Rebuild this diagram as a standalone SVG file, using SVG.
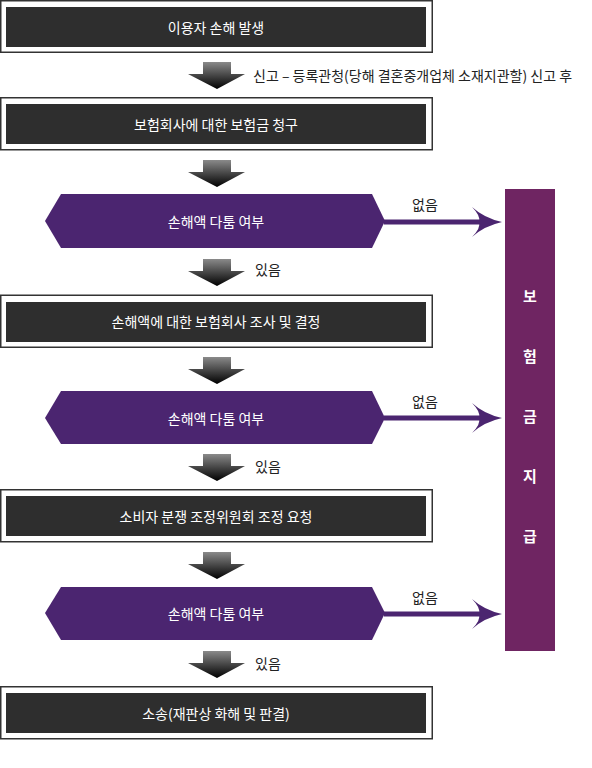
<svg xmlns="http://www.w3.org/2000/svg" width="592" height="768" viewBox="0 0 592 768">
<defs>
<linearGradient id="ag" x1="0" y1="0" x2="0" y2="1">
<stop offset="0" stop-color="#8a8a8a"/>
<stop offset="1" stop-color="#000"/>
</linearGradient>
<path id="down" d="M203,0 H231 V12 H245 L217,27 L188,12 H203 Z" fill="url(#ag)"/>
</defs>
<style>
.outer{fill:#fff;stroke:#333;stroke-width:1.5}
.inner{fill:#2e2e2e}
.hex{fill:#4b2570}
.wt{fill:#fff;font-family:"Noto Sans CJK KR","Noto Sans",sans-serif;font-size:14px;text-anchor:middle;dominant-baseline:central}
.bt{fill:#222;font-family:"Noto Sans CJK KR","Noto Sans",sans-serif;font-size:14px;dominant-baseline:central}
.col{fill:#6f2562}
.ct{fill:#fff;font-family:"Noto Sans CJK KR","Noto Sans",sans-serif;font-size:15px;font-weight:bold;text-anchor:middle;dominant-baseline:central}
.line{stroke:#4b2570;stroke-width:5;fill:none}
.head{fill:#4b2570}
</style>

<g id="node-1">
<rect class="outer" x="0.75" y="0.75" width="431.5" height="51.5"/>
<rect class="inner" x="6" y="7" width="420" height="40"/>
<text class="wt" x="216" y="27">이용자 손해 발생</text>
</g>
<g id="node-2">
<rect class="outer" x="0.75" y="97.75" width="431.5" height="52"/>
<rect class="inner" x="6" y="104" width="420" height="40"/>
<text class="wt" x="216" y="124">보험회사에 대한 보험금 청구</text>
</g>
<g id="decision-1">
<path class="hex" d="M61,194 H372 L385,221 L372,248 H61 L45,221 Z"/>
<text class="wt" x="216" y="221">손해액 다툼 여부</text>
</g>
<g id="node-3">
<rect class="outer" x="0.75" y="295.25" width="431.5" height="52"/>
<rect class="inner" x="6" y="302" width="420" height="40"/>
<text class="wt" x="216" y="321">손해액에 대한 보험회사 조사 및 결정</text>
</g>
<g id="decision-2">
<path class="hex" d="M61,391 H372 L385,418 L372,444 H61 L45,418 Z"/>
<text class="wt" x="216" y="418">손해액 다툼 여부</text>
</g>
<g id="node-4">
<rect class="outer" x="0.75" y="489.75" width="431.5" height="52"/>
<rect class="inner" x="6" y="496" width="420" height="40"/>
<text class="wt" x="216" y="516">소비자 분쟁 조정위원회 조정 요청</text>
</g>
<g id="decision-3">
<path class="hex" d="M61,587 H372 L385,613 L372,640 H61 L45,613 Z"/>
<text class="wt" x="216" y="613">손해액 다툼 여부</text>
</g>
<g id="node-5">
<rect class="outer" x="0.75" y="686.75" width="431.5" height="52"/>
<rect class="inner" x="6" y="693" width="420" height="40"/>
<text class="wt" x="216" y="713">소송(재판상 화해 및 판결)</text>
</g>
<g id="node-payment">
<rect class="col" x="505" y="189" width="50" height="462"/>
<text class="ct" x="530" y="295">보</text>
<text class="ct" x="530" y="355">험</text>
<text class="ct" x="530" y="415">금</text>
<text class="ct" x="530" y="475">지</text>
<text class="ct" x="530" y="535">급</text>
</g>

<g id="connectors">
<use href="#down" y="62"/>
<use href="#down" y="160"/>
<use href="#down" y="259"/>
<use href="#down" y="357"/>
<use href="#down" y="454"/>
<use href="#down" y="552"/>
<use href="#down" y="651"/>
<g>
<path class="line" d="M384,222 H482"/>
<path class="head" d="M502,222 Q484,218 472,207 Q481,216 479,222 Q481,228 472,237 Q484,226 502,222 Z"/>
</g>
<g>
<path class="line" d="M384,418 H482"/>
<path class="head" d="M502,418 Q484,414 472,403 Q481,412 479,418 Q481,424 472,433 Q484,422 502,418 Z"/>
</g>
<g>
<path class="line" d="M384,614 H482"/>
<path class="head" d="M502,614 Q484,610 472,599 Q481,608 479,614 Q481,620 472,629 Q484,618 502,614 Z"/>
</g>
</g>

<g id="labels">
<text class="bt" x="253" y="75">신고 – 등록관청(당해 결혼중개업체 소재지관할) 신고 후</text>
<text class="bt" x="412" y="204">없음</text>
<text class="bt" x="412" y="401">없음</text>
<text class="bt" x="412" y="597">없음</text>
<text class="bt" x="255" y="269">있음</text>
<text class="bt" x="255" y="466">있음</text>
<text class="bt" x="255" y="663">있음</text>
</g>
</svg>
